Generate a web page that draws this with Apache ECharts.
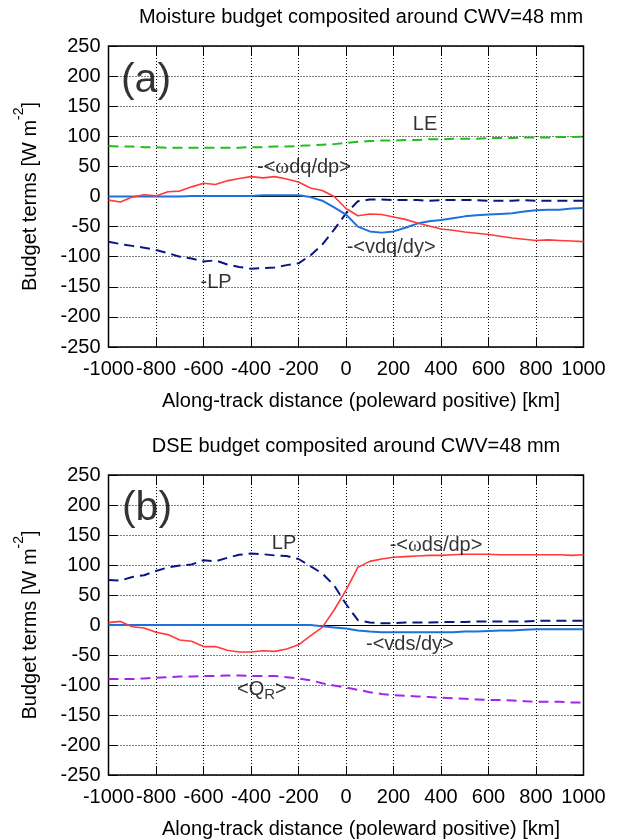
<!DOCTYPE html>
<html><head><meta charset="utf-8">
<script src="https://cdn.jsdelivr.net/npm/echarts@6/dist/echarts.min.js"></script>
<style>html,body{margin:0;padding:0;background:#fff}#c{width:621px;height:840px}</style>
</head><body><div id="c"></div>
<script>
// ---- data (W m^-2) at along-track distance (km) ----
const distKm = [-1000,-950,-900,-850,-800,-750,-700,-650,-600,-550,-500,-450,-400,-350,-300,-250,-200,-150,-100,-50,0,50,100,150,200,250,300,350,400,450,500,550,600,650,700,750,800,850,900,950,1000];
// Panel (a) moisture budget
const aOmegaDq = [-6,-9,-1,3,1,8,9,16,22,20,26,30,33,31,33,29,24,14,10,0,-20,-32,-29,-30,-34,-38,-44,-49,-54,-56,-59,-61,-63,-66,-69,-71,-73,-72,-73,-74,-75];
const aVdq     = [0,0,0,0,0,0,0,1,1,1,1,1,1,2,2,2,2,-1,-7,-18,-30,-50,-58,-60,-58,-52,-45,-41,-39,-36,-33,-31,-30,-29,-28,-25,-23,-22,-22,-20,-19];
const aMinusLP = [-75,-79,-82,-85,-89,-94,-100,-103,-108,-106,-113,-117,-120,-119,-118,-114,-111,-98,-80,-55,-28,-8,-5,-5,-6,-6,-6,-7,-6,-6,-6,-6,-7,-7,-7,-6,-7,-7,-7,-7,-7];
const aLE      = [84,83,83,82,82,81,81,81,81,81,81,81,82,82,83,83,84,85,86,87,89,91,92,93,93,94,94,95,95,96,96,96,97,97,97,98,98,98,99,99,99.5];
// Panel (b) DSE budget
const bOmegaDs = [4,6,-3,-5,-12,-16,-25,-27,-36,-36,-42,-45,-45,-43,-44,-40,-33,-18,-4,25,58,96,106,110,113,114,115,116,116,117,118,118,118,117,117,117,117,117,117,116,117];
const bVds     = [0,0,0,0,0,0,0,0,0,0,0,0,0,0,0,0,0,0,-2,-4,-6,-9,-11,-12,-12,-12,-12,-12,-12,-12,-11,-11,-10,-9,-9,-8,-7,-7,-7,-7,-7];
const bLP      = [75,74,80,83,90,96,99,101,108,106,112,117,119,118,116,115,110,98,86,66,35,8,4,3,3,4,4,4,5,5,5,6,6,6,6,6,7,7,7,7,7];
const bQR      = [-90,-90,-90,-89,-88,-87,-86,-86,-85,-85,-84,-84,-85,-85,-85,-87,-89,-92,-97,-101,-104,-108,-112,-115,-117,-118,-119,-120,-121,-122,-123,-124,-125,-125,-126,-127,-128,-128,-128,-129,-129];
// text annotations: [x km, y value, text]
const notesA = [[-842,193,'{big|(a)}'],[-177,47.5,'-<{w|ω}dq/dp>'],[333,119,'LE'],[190,-85,'-<vdq/dy>'],[-547,-143,'-LP']];
const notesB = [[-838,194,'{big|(b)}'],[-261,136,'LP'],[379,133,'-<{w|ω}ds/dp>'],[269,-32,'-<vds/dy>'],[-354,-108,'<Q{sub|R}>']];

const FONT = 'Liberation Sans, Arial, Helvetica, sans-serif';
const RED='#ff3a3a', BLUE='#1f6fdc', NAVY='#0a1580', GREEN='#1fbf1f', PURPLE='#a424e8';
const zip = (ys) => distKm.map((x,i)=>[x, ys[i]]);
const TICK = {inside:true, length:9, lineStyle:{color:'#000', width:1}};
const GRIDLINE = {show:true, lineStyle:{color:'#000', type:[1,2], width:1}};

function grids(top){ return {left:108.5, width:475, top:top, height:301, show:true, borderColor:'#000', borderWidth:1.5, backgroundColor:'transparent', containLabel:false}; }
function xAxes(g){
  const base = {gridIndex:g, type:'value', min:-1000, max:1000, interval:200, axisLine:{show:false, onZero:false}, axisTick:TICK};
  return [
    Object.assign({}, base, {position:'bottom',
      axisLabel:{color:'#000', fontSize:20, fontFamily:FONT, margin:12, showMinLabel:true, showMaxLabel:true, hideOverlap:false, formatter:(v)=>String(v)},
      splitLine:GRIDLINE,
      name:'Along-track distance (poleward positive) [km]', nameLocation:'middle', nameGap:44,
      nameTextStyle:{color:'#000', fontSize:20, fontFamily:FONT, padding:[0,0,0,30]}}),
    Object.assign({}, base, {position:'top', axisLabel:{show:false}, splitLine:{show:false}})
  ];
}
function yAxes(g){
  const base = {gridIndex:g, type:'value', min:-250, max:250, interval:50, axisLine:{show:false, onZero:false}, axisTick:TICK};
  return [
    Object.assign({}, base, {position:'left',
      axisLabel:{color:'#000', fontSize:20, fontFamily:FONT, margin:8, showMinLabel:true, showMaxLabel:true, formatter:(v)=>String(v)},
      splitLine:GRIDLINE,
      name:'{a|Budget terms [W m}{s|-2}{a|]}', nameLocation:'middle', nameGap:68, nameRotate:90,
      nameTextStyle:{color:'#000', rich:{a:{fontSize:20, fontFamily:FONT, color:'#000', lineHeight:28, verticalAlign:'bottom'}, s:{fontSize:14, fontFamily:FONT, color:'#000', verticalAlign:'top', lineHeight:14}}}}),
    Object.assign({}, base, {position:'right', axisLabel:{show:false}, splitLine:{show:false}})
  ];
}
function line(name, g, ys, color, dashed, width, zero){
  const s = {name, type:'line', xAxisIndex:2*g, yAxisIndex:2*g, data:zip(ys), showSymbol:false, symbol:'none', smooth:false,
    lineStyle:{color, width, type: dashed ? [10,6] : 'solid'}, z:3, silent:true, animation:false};
  if (zero) s.markLine = {silent:true, symbol:['none','none'], label:{show:false}, lineStyle:{color:'#000', type:'solid', width:1}, data:[{yAxis:0}], animation:false, z:2};
  return s;
}
function notes(g, arr){
  return {type:'scatter', xAxisIndex:2*g, yAxisIndex:2*g, data:arr, symbolSize:0, silent:true, animation:false, z:5,
    label:{show:true, position:'inside', color:'#000', fontSize:20, fontFamily:FONT, formatter:(p)=>p.data[2],
      rich:{big:{fontSize:41, fontFamily:FONT, color:'#000'}, w:{fontSize:21, fontFamily:'Liberation Serif, serif', color:'#000'},
        sub:{fontSize:15, fontFamily:FONT, color:'#000', verticalAlign:'bottom', padding:[10,0,0,0]}}}};
}

const chart = echarts.init(document.getElementById('c'), null, {renderer:'canvas'});
chart.setOption({
  backgroundColor:'#fff',
  animation:false,
  grid:[grids(46), grids(475)],
  xAxis:[...xAxes(0), ...xAxes(1)],
  yAxis:[...yAxes(0), ...yAxes(1)],
  graphic:[
    {type:'text', x:361, y:17, style:{text:'Moisture budget composited around CWV=48 mm', font:'20px '+FONT, fill:'#000', textAlign:'center', textVerticalAlign:'middle'}},
    {type:'text', x:356, y:446, style:{text:'DSE budget composited around CWV=48 mm', font:'20px '+FONT, fill:'#000', textAlign:'center', textVerticalAlign:'middle'}}
  ],
  series:[
    line('LE',0,aLE,GREEN,true,2,true),
    line('-LP',0,aMinusLP,NAVY,true,2,false),
    line('-<vdq/dy>',0,aVdq,BLUE,false,2,false),
    line('-<ωdq/dp>',0,aOmegaDq,RED,false,1.6,false),
    notes(0,notesA),
    line('<QR>',1,bQR,PURPLE,true,2,true),
    line('LP',1,bLP,NAVY,true,2,false),
    line('-<vds/dy>',1,bVds,BLUE,false,2,false),
    line('-<ωds/dp>',1,bOmegaDs,RED,false,1.6,false),
    notes(1,notesB)
  ]
});
</script></body></html>
